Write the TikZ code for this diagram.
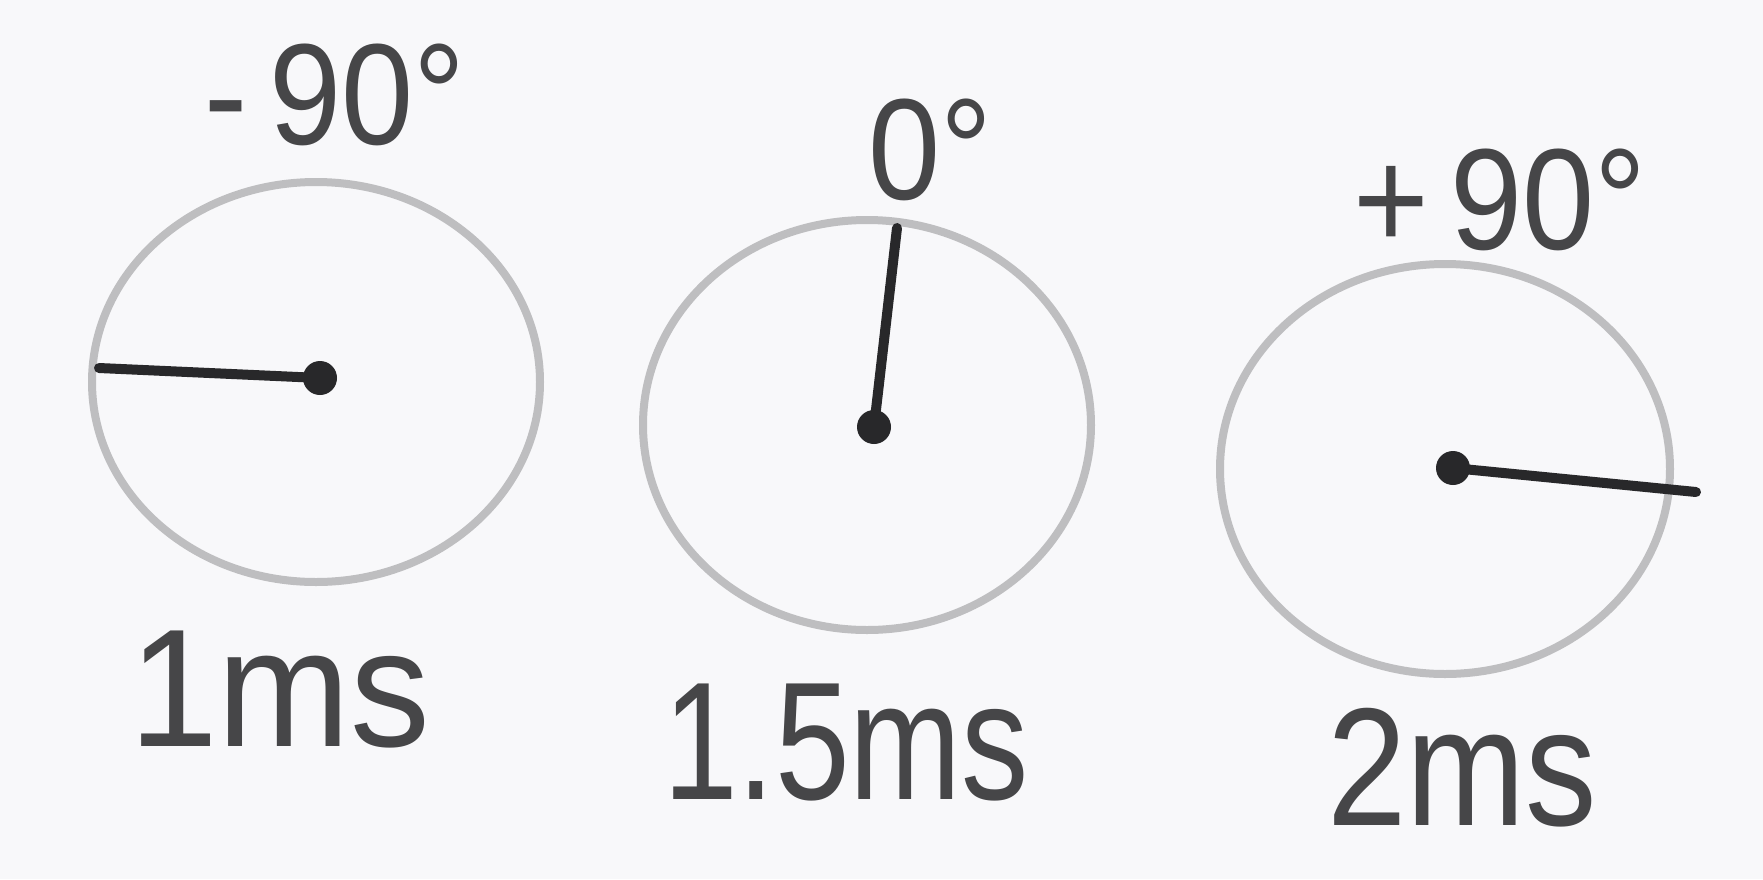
\documentclass[tikz,border=0pt]{standalone}
\usepackage{fontspec}
\setmainfont{Liberation Sans}
\usetikzlibrary{shapes.geometric}
\definecolor{bg}{RGB}{248,248,250}
\definecolor{ring}{RGB}{190,190,192}
\definecolor{ink}{RGB}{40,40,42}
\definecolor{txt}{RGB}{70,70,72}
\tikzset{
  dial/.style={ellipse, draw=ring, line width=4pt, inner sep=0pt},
  hub/.style={circle, fill=ink, inner sep=0pt, minimum size=17pt},
  needle/.style={draw=ink, line width=5pt, line cap=round},
  lbl/.style={text=txt, font=\fontsize{84}{90}\selectfont, inner sep=0pt},
  ang/.style={text=txt, font=\fontsize{72}{78}\selectfont, inner sep=0pt}
}
\begin{document}
\begin{tikzpicture}[x=0.5pt,y=-0.5pt]
\fill[bg] (0,0) rectangle (1763,879);
\useasboundingbox (0,0) rectangle (1763,879);
% dials
\node[dial, minimum width=224pt, minimum height=200pt] (c1) at (316,382) {};
\node[dial, minimum width=224pt, minimum height=205pt] (c2) at (867,425) {};
\node[dial, minimum width=225pt, minimum height=205pt] (c3) at (1445,469) {};
% hubs
\node[hub] (h1) at (320,378) {};
\node[hub] (h2) at (874,427) {};
\node[hub] (h3) at (1453,468) {};
% needle ends
\coordinate (e1) at (99,368);
\coordinate (e2) at (897,228);
\coordinate (e3) at (1696,492);
\draw[needle] (h1.center) -- (e1);
\draw[needle] (h2.center) -- (e2);
\draw[needle] (h3.center) -- (e3);
% angle labels
\node[ang, xscale=0.9] (a1) at (335,95) {-\,90°};
\node[ang, xscale=0.9] (a2) at (930,150) {0°};
\node[ang, xscale=0.9] (a3) at (1500,200) {+\,90°};
% time labels
\node[lbl, xscale=0.95] (t1) at (280,690) {1ms};
\node[lbl, xscale=0.8] (t2) at (846,743) {1.5ms};
\node[lbl, xscale=0.85] (t3) at (1462,768) {2ms};
\end{tikzpicture}
\end{document}
